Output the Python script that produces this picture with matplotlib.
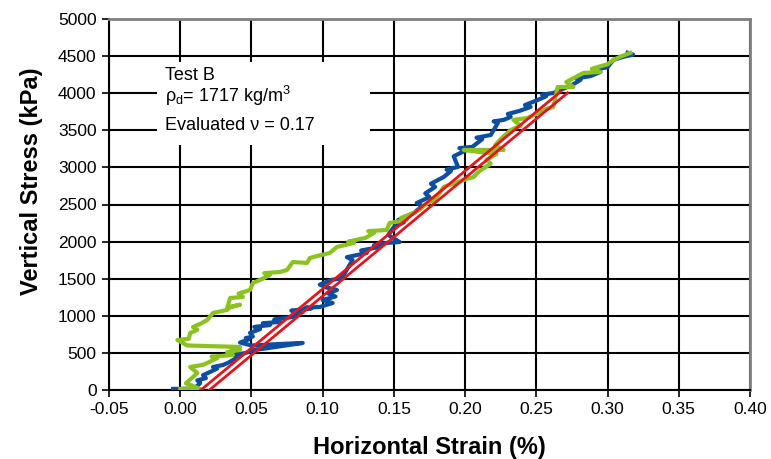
import matplotlib
matplotlib.use("Agg")
import matplotlib.pyplot as plt
from matplotlib.patches import Rectangle

plt.rcParams["font.family"] = ["Liberation Sans", "DejaVu Sans"]

# Measured curves: horizontal strain (%) vs vertical stress (kPa)
blue_x = [-0.005, 0.000, 0.010, 0.014, 0.012, 0.018, 0.016, 0.021, 0.026, 0.023,
          0.030, 0.034, 0.037, 0.041, 0.038, 0.046, 0.052, 0.060, 0.086, 0.070,
          0.050, 0.042, 0.048, 0.046, 0.051, 0.049, 0.056, 0.052, 0.063, 0.058,
          0.070, 0.066, 0.079, 0.084, 0.078, 0.092, 0.088, 0.098, 0.107, 0.100,
          0.109, 0.104, 0.110, 0.103, 0.098, 0.106, 0.112, 0.115, 0.121, 0.117,
          0.131, 0.127, 0.140, 0.136, 0.145, 0.154, 0.146, 0.150, 0.157, 0.153,
          0.164, 0.170, 0.166, 0.175, 0.172, 0.179, 0.176, 0.185, 0.190, 0.187,
          0.195, 0.192, 0.201, 0.196, 0.205, 0.212, 0.208, 0.218, 0.223, 0.220,
          0.227, 0.232, 0.230, 0.238, 0.246, 0.242, 0.251, 0.257, 0.254, 0.262,
          0.267, 0.275, 0.281, 0.278, 0.288, 0.295, 0.292, 0.300, 0.304, 0.311,
          0.318, 0.314]
blue_y = [15, 15, 20, 94, 130, 160, 200, 243, 290, 310,
          337, 370, 404, 445, 470, 500, 540, 560, 634, 620,
          600, 640, 680, 700, 720, 770, 820, 850, 876, 900,
          917, 950, 984, 1038, 1070, 1100, 1110, 1119, 1173, 1213,
          1260, 1300, 1348, 1380, 1420, 1483, 1500, 1560, 1752, 1790,
          1847, 1880, 1928, 1950, 1982, 1995, 2090, 2197, 2260, 2290,
          2386, 2480, 2520, 2600, 2650, 2737, 2780, 2871, 2950, 2970,
          3006, 3150, 3235, 3260, 3276, 3380, 3400, 3437, 3599, 3620,
          3640, 3680, 3720, 3760, 3815, 3840, 3909, 3960, 3980, 4003,
          4044, 4110, 4179, 4200, 4230, 4287, 4320, 4350, 4448, 4490,
          4520, 4545]

green_x = [0.000, 0.014, 0.004, 0.009, 0.012, 0.007, 0.016, 0.019, 0.026, 0.022,
           0.037, 0.033, 0.042, 0.036, 0.042, 0.005, -0.002, 0.006, 0.007, 0.012,
           0.009, 0.015, 0.019, 0.023, 0.033, 0.035, 0.042, 0.033, 0.035, 0.044,
           0.041, 0.049, 0.051, 0.056, 0.063, 0.059, 0.070, 0.075, 0.079, 0.089,
           0.091, 0.097, 0.105, 0.110, 0.122, 0.118, 0.130, 0.136, 0.132, 0.145,
           0.147, 0.159, 0.155, 0.164, 0.168, 0.172, 0.178, 0.182, 0.185, 0.199,
           0.206, 0.210, 0.218, 0.215, 0.222, 0.199, 0.227, 0.221, 0.226, 0.232,
           0.239, 0.234, 0.244, 0.250, 0.256, 0.262, 0.265, 0.276, 0.271, 0.283,
           0.295, 0.289, 0.300, 0.304, 0.310, 0.316]
green_y = [15, 15, 90, 175, 230, 310, 340, 364, 431, 450,
           472, 510, 539, 560, 580, 600, 674, 690, 768, 810,
           849, 900, 944, 1038, 1080, 1119, 1150, 1105, 1240, 1254,
           1300, 1348, 1442, 1483, 1550, 1575, 1590, 1618, 1725, 1712,
           1779, 1810, 1847, 1928, 1982, 2000, 2050, 2116, 2140, 2157,
           2251, 2292, 2320, 2386, 2430, 2500, 2560, 2650, 2737, 2831,
           2871, 2950, 3050, 3100, 3180, 3235, 3235, 3300, 3400, 3505,
           3560, 3640, 3667, 3720, 3780, 3815, 4084, 4084, 4150, 4273,
           4287, 4330, 4390, 4448, 4500, 4543]

# Linear elastic fits (two parallel lines)
red1_x = [0.0145, 0.267]
red1_y = [0, 4020]
red2_x = [0.0205, 0.272]
red2_y = [0, 4005]

xticks = [-0.05, 0.00, 0.05, 0.10, 0.15, 0.20, 0.25, 0.30, 0.35, 0.40]
yticks = list(range(0, 5001, 500))

fig = plt.figure(figsize=(7.71, 4.59), dpi=100)
ax = fig.add_axes([109 / 771, 1 - 390 / 459, 641 / 771, 371 / 459])
ax.set_xlim(-0.05, 0.40)
ax.set_ylim(0, 5000)
ax.set_xticks(xticks)
ax.set_yticks(yticks)
ax.set_xticklabels([f"{t:.2f}" for t in xticks])
ax.set_axisbelow(True)
ax.grid(True, color="black", lw=1.5)
ax.tick_params(direction="out", length=5, width=1.2, labelsize=12.5, pad=4)

for side in ("left", "bottom"):
    ax.spines[side].set_color("black")
    ax.spines[side].set_linewidth(1.5)
for side in ("top", "right"):
    ax.spines[side].set_color("#808080")
    ax.spines[side].set_linewidth(2)

# white panel behind the annotation, hides the grid there
ax.add_patch(Rectangle((-0.0163, 3302), 0.1497, 1118,
                       facecolor="white", edgecolor="none", zorder=1))
ax.text(-0.011, 4240, "Test B", fontsize=13, va="center", zorder=2)
ax.text(-0.011, 3960, r"$\mathregular{\rho_d}$= 1717 kg/m$\mathregular{^3}$",
        fontsize=13, va="center", zorder=2)
ax.text(-0.011, 3570, "Evaluated ν = 0.17", fontsize=13, va="center", zorder=2)

ax.plot(blue_x, blue_y, color="#0b4ea2", lw=3, zorder=3)
ax.plot(green_x, green_y, color="#8cc21f", lw=3, zorder=4)
ax.plot(red1_x, red1_y, color="#e8141c", lw=2, zorder=5)
ax.plot(red2_x, red2_y, color="#e8141c", lw=2, zorder=5)

ax.set_xlabel("Horizontal Strain (%)", fontsize=17, fontweight="bold")
ax.set_ylabel("Vertical Stress (kPa)", fontsize=17, fontweight="bold")
ax.xaxis.set_label_coords(0.5, -0.125)
ax.yaxis.set_label_coords(-0.103, 0.563)

fig.savefig("out.png", dpi=100)
